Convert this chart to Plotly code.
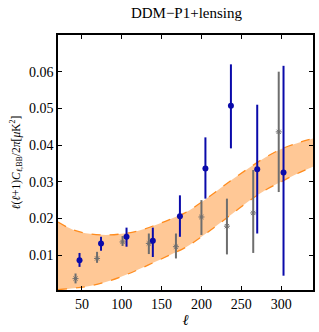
import plotly.graph_objects as go

# Blue data points (ell, value, upper error, lower error)
blue_ell = [47, 74, 106, 139, 173, 205, 237, 270, 303]
blue_val = [0.0086, 0.0132, 0.0150, 0.0139, 0.0206, 0.0336, 0.0507, 0.0334, 0.0325]
blue_hi = [0.0106, 0.0150, 0.0175, 0.0175, 0.0263, 0.0421, 0.0620, 0.0510, 0.0616]
blue_lo = [0.0068, 0.0112, 0.0123, 0.0095, 0.0150, 0.0254, 0.0391, 0.0159, 0.0044]

# Gray data points
gray_ell = [42, 69, 101, 134, 168, 200, 232, 265, 297]
gray_val = [0.0036, 0.0091, 0.0136, 0.0132, 0.0123, 0.0204, 0.0179, 0.0215, 0.0436]
gray_hi = [0.0050, 0.0109, 0.0152, 0.0159, 0.0159, 0.0250, 0.0254, 0.0332, 0.0600]
gray_lo = [0.0023, 0.0079, 0.0125, 0.0103, 0.0091, 0.0155, 0.0102, 0.0106, 0.0272]

# Theory band
band_ell = [20, 40, 60, 80, 100, 120, 140, 160, 180, 200, 220, 240, 260, 280, 300, 320, 340]
band_up = [0.0190, 0.0168, 0.0158, 0.0155, 0.0158, 0.0166, 0.0180, 0.0197, 0.0216, 0.0244,
           0.0276, 0.0308, 0.0338, 0.0366, 0.0389, 0.0405, 0.0418]
band_lo = [0.0006, 0.0010, 0.0016, 0.0027, 0.0042, 0.0060, 0.0080, 0.0100, 0.0121, 0.0150,
           0.0182, 0.0215, 0.0248, 0.0277, 0.0300, 0.0322, 0.0341]

x_ticks = [50, 100, 150, 200, 250, 300]
y_ticks = [0.01, 0.02, 0.03, 0.04, 0.05, 0.06]
y_ticklabels = ["0.01", "0.02", "0.03", "0.04", "0.05", "0.06"]

orange_line = "rgb(255,140,30)"
orange_fill = "rgba(255,200,150,1)"
blue = "rgb(10,10,170)"
gray = "rgb(110,110,110)"

fig = go.Figure()
fig.add_trace(go.Scatter(x=band_ell, y=band_lo, mode="lines",
                         line=dict(color=orange_line, width=1.3, dash="dash", shape="spline"),
                         showlegend=False, hoverinfo="skip"))
fig.add_trace(go.Scatter(x=band_ell, y=band_up, mode="lines", fill="tonexty",
                         fillcolor=orange_fill,
                         line=dict(color=orange_line, width=1.3, dash="dash", shape="spline"),
                         showlegend=False, hoverinfo="skip"))

fig.add_trace(go.Scatter(
    x=gray_ell, y=gray_val, mode="markers",
    marker=dict(symbol="asterisk-open", size=5, color=gray, line=dict(color=gray, width=1)),
    error_y=dict(type="data", symmetric=False,
                 array=[h - v for h, v in zip(gray_hi, gray_val)],
                 arrayminus=[v - l for v, l in zip(gray_val, gray_lo)],
                 color=gray, thickness=2, width=0),
    showlegend=False))

fig.add_trace(go.Scatter(
    x=blue_ell, y=blue_val, mode="markers",
    marker=dict(symbol="circle", size=6, color=blue),
    error_y=dict(type="data", symmetric=False,
                 array=[h - v for h, v in zip(blue_hi, blue_val)],
                 arrayminus=[v - l for v, l in zip(blue_val, blue_lo)],
                 color=blue, thickness=2, width=0),
    showlegend=False))

font_family = "Liberation Serif"

fig.update_layout(
    width=319, height=332,
    margin=dict(l=58, r=4, t=35, b=42),
    paper_bgcolor="white", plot_bgcolor="white",
    font=dict(family=font_family, size=14, color="black"),
    title=dict(text="DDM\u2212P1+lensing", x=0.5845, xanchor="center", y=0.962, yanchor="middle",
               font=dict(family=font_family, size=15, color="black")),
    xaxis=dict(range=[20, 340], tickvals=x_ticks, ticks="inside", ticklen=4, tickcolor="black",
               showline=True, linecolor="black", linewidth=1.5, mirror="ticks",
               showgrid=False, zeroline=False, tickfont=dict(family=font_family, size=14),
               title=dict(text="<i>\u2113</i>", standoff=4, font=dict(family=font_family, size=15))),
    yaxis=dict(range=[0.0005, 0.070], tickvals=y_ticks, ticktext=y_ticklabels,
               ticks="inside", ticklen=4, tickcolor="black",
               showline=True, linecolor="black", linewidth=1.5, mirror="ticks",
               showgrid=False, zeroline=False, tickfont=dict(family=font_family, size=14),
               title=dict(text="<i>\u2113</i>(<i>\u2113</i>+1)<i>C</i><sub><i>\u2113</i>,BB</sub>/2<i>\u03c0</i>[<i>\u03bc</i>K<sup>2</sup>]",
                          standoff=6, font=dict(family=font_family, size=11.5))),
)

fig.write_html("out.html", config={"displayModeBar": False},
               post_script="document.body.style.margin='0px';")
